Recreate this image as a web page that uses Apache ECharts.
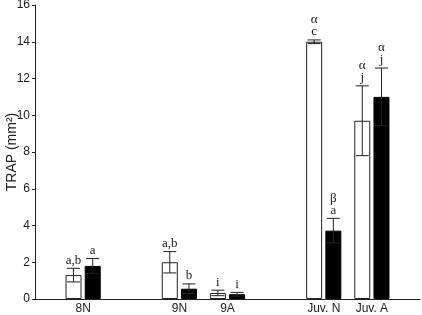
<!DOCTYPE html>
<html>
<head>
<meta charset="utf-8">
<script src="https://cdn.jsdelivr.net/npm/echarts@6/dist/echarts.min.js"></script>
<style>
  html, body { margin: 0; padding: 0; background: #fff; }
  #chart { width: 422px; height: 315px; }
</style>
</head>
<body>
<div id="chart"></div>
<script>
// groups sit on a value axis so the gaps between them are kept
var groups = ['8N', '9N', '9A', 'Juv. N', 'Juv. A'];
var groupPos = [1, 3, 4, 6, 7];

var whiteMean = [1.3, 2.0, 0.33, 14.0, 9.7];
var whiteErr = [0.37, 0.58, 0.15, 0.1, 1.9];
var blackMean = [1.8, 0.56, 0.26, 3.72, 11.0];
var blackErr = [0.4, 0.26, 0.1, 0.67, 1.57];

var whiteLetters = ['a,b', 'a,b', 'i', '\u03b1\nc', '\u03b1\nj'];
var blackLetters = ['a', 'b', 'i', '\u03b2\na', '\u03b1\nj'];

var yTicks = [0, 2, 4, 6, 8, 10, 12, 14, 16];

var barW = 16;
var barGapPx = 3.2;
var half = (barW + barGapPx) / 2;

function pairs(vals) {
  var out = [];
  for (var i = 0; i < vals.length; i++) out.push([groupPos[i], vals[i]]);
  return out;
}

function errData(vals, errs, letters) {
  var out = [];
  for (var i = 0; i < vals.length; i++) out.push([groupPos[i], vals[i], errs[i], letters[i]]);
  return out;
}

function makeErr(shift) {
  return function(params, api) {
    var x = api.value(0), m = api.value(1), e = api.value(2);
    var top = api.coord([x, m + e]);
    var bot = api.coord([x, Math.max(m - e, 0)]);
    var cx = top[0] + shift;
    var cap = 6.5;
    var st = { stroke: '#222', lineWidth: 1 };
    return {
      type: 'group',
      children: [
        { type: 'line', shape: { x1: cx, y1: top[1], x2: cx, y2: bot[1] }, style: st },
        { type: 'line', shape: { x1: cx - cap, y1: top[1], x2: cx + cap, y2: top[1] }, style: st },
        { type: 'line', shape: { x1: cx - cap, y1: bot[1], x2: cx + cap, y2: bot[1] }, style: st },
        {
          type: 'text',
          style: {
            x: cx, y: top[1] - 2,
            text: api.value(3),
            align: 'center', verticalAlign: 'bottom',
            font: '13px "Liberation Serif"',
            lineHeight: 12,
            fill: '#222'
          }
        }
      ]
    };
  };
}

var myChart = echarts.init(document.getElementById('chart'));
var option = {
  animation: false,
  grid: { left: 35, right: 2, top: 5, bottom: 16, containLabel: false, outerBoundsMode: 'none' },
  xAxis: {
    type: 'value',
    min: 0, max: 8, interval: 1,
    axisLine: { show: true, onZero: false, lineStyle: { color: '#222', width: 1 } },
    axisTick: { show: false },
    splitLine: { show: false },
    axisLabel: {
      margin: 4,
      fontFamily: 'Liberation Sans',
      fontSize: 12,
      color: '#222',
      formatter: function(v) {
        var k = groupPos.indexOf(v);
        return k >= 0 ? groups[k] : '';
      }
    }
  },
  yAxis: {
    type: 'value',
    min: 0, max: 16, interval: 2,
    name: 'TRAP (mm\u00b2)',
    nameLocation: 'middle',
    nameGap: 16,
    nameMoveOverlap: false,
    nameTextStyle: { fontFamily: 'Liberation Sans', fontSize: 14, color: '#222' },
    axisLine: { show: true, lineStyle: { color: '#222', width: 1 } },
    axisTick: { show: true, length: 3, lineStyle: { color: '#222' } },
    splitLine: { show: false },
    axisLabel: {
      margin: 5,
      fontFamily: 'Liberation Sans',
      fontSize: 12,
      color: '#222',
      formatter: function(v) { return yTicks.indexOf(v) >= 0 ? String(v) : ''; }
    }
  },
  series: [
    {
      name: 'white', type: 'bar',
      barWidth: barW, barGap: (barGapPx / barW * 100) + '%',
      itemStyle: { color: '#fff', borderColor: '#222', borderWidth: 1 },
      data: pairs(whiteMean)
    },
    {
      name: 'black', type: 'bar',
      barWidth: barW,
      itemStyle: { color: '#000', borderColor: '#000', borderWidth: 1 },
      data: pairs(blackMean)
    },
    {
      type: 'custom', renderItem: makeErr(-half), z: 5,
      data: errData(whiteMean, whiteErr, whiteLetters)
    },
    {
      type: 'custom', renderItem: makeErr(half), z: 5,
      data: errData(blackMean, blackErr, blackLetters)
    }
  ]
};
myChart.setOption(option);
</script>
</body>
</html>
